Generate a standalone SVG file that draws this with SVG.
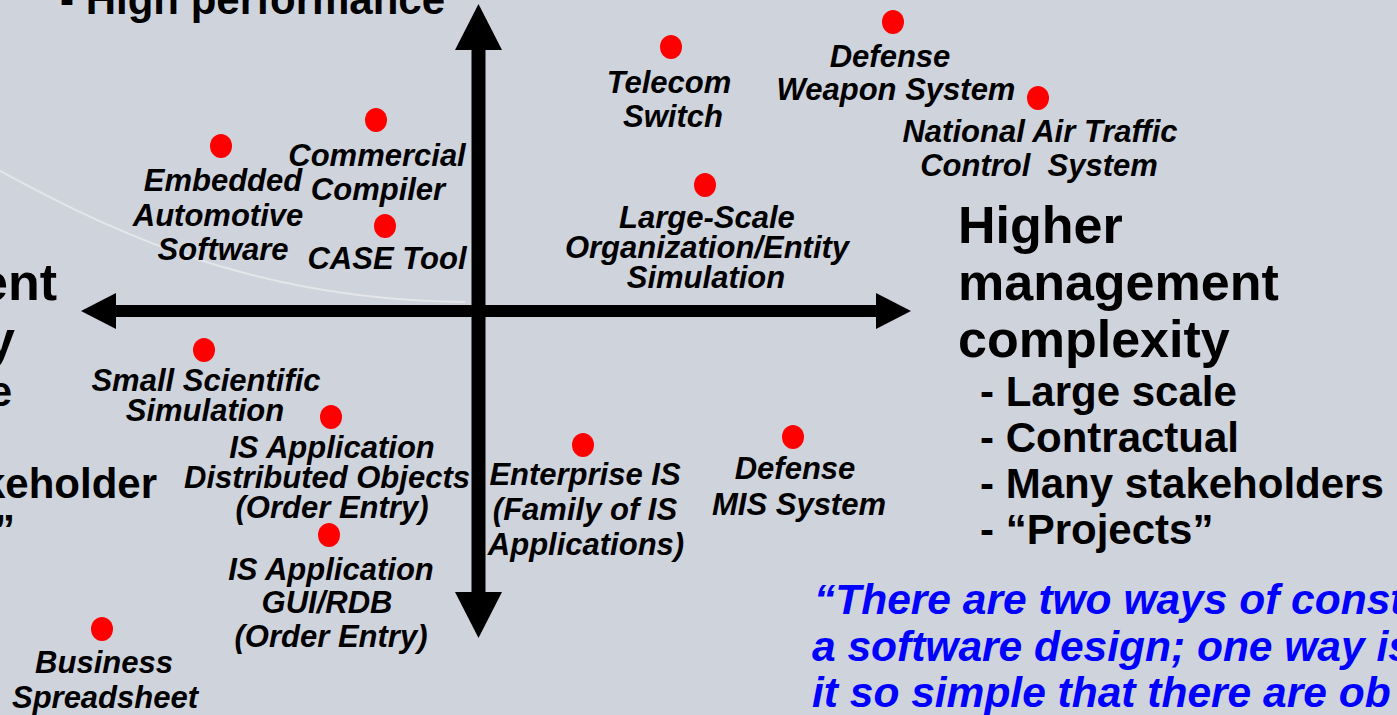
<svg xmlns="http://www.w3.org/2000/svg" width="1397" height="715" viewBox="0 0 1397 715">
<style>
.lbl{font-family:"Liberation Sans",Arial,sans-serif;font-weight:bold;font-style:italic;font-size:31px;fill:#000;text-anchor:middle;white-space:pre}
.dot{fill:#ff0000}
.head{font-family:"Liberation Sans",Arial,sans-serif;font-weight:bold;font-size:52px;fill:#000}
.list{font-family:"Liberation Sans",Arial,sans-serif;font-weight:bold;font-size:42px;fill:#000;white-space:pre}
.quote{font-family:"Liberation Sans",Arial,sans-serif;font-weight:bold;font-style:italic;font-size:42.5px;fill:#0000ff;white-space:pre}
.axis{stroke:#000;fill:none}
</style>
<defs>
<marker id="headV" markerUnits="userSpaceOnUse" markerWidth="47" markerHeight="47" viewBox="0 0 46 47" refX="0" refY="23.5" orient="auto-start-reverse">
<path d="M0,0 L46,23.5 L0,47 z" fill="#000"/>
</marker>
<marker id="headH" markerUnits="userSpaceOnUse" markerWidth="36" markerHeight="36" viewBox="0 0 35 36" refX="0" refY="18" orient="auto-start-reverse">
<path d="M0,0 L35,18 L0,36 z" fill="#000"/>
</marker>
</defs>
<rect x="0" y="0" width="1397" height="715" fill="#cfd3db"/>
<path d="M-20,160 C80,214 230,300 465,302" fill="none" stroke="#e4e6ea" stroke-width="2"/>

<g id="connectors">
<path class="axis" d="M478.5,50 L478.5,592" stroke-width="14" marker-start="url(#headV)" marker-end="url(#headV)"/>
<path class="axis" d="M116,311 L876,311" stroke-width="12" marker-start="url(#headH)" marker-end="url(#headH)"/>
</g>

<g id="embedded-automotive">
<ellipse class="dot" cx="221" cy="146" rx="11" ry="12"/>
<text class="lbl"><tspan x="223" y="191">Embedded</tspan><tspan x="218" y="226">Automotive</tspan><tspan x="223" y="260">Software</tspan></text>
</g>
<g id="commercial-compiler">
<ellipse class="dot" cx="376" cy="120" rx="11" ry="12"/>
<text class="lbl"><tspan x="377" y="166">Commercial</tspan><tspan x="378" y="200">Compiler</tspan></text>
</g>
<g id="case-tool">
<ellipse class="dot" cx="385" cy="226" rx="11" ry="12"/>
<text class="lbl" x="387" y="269">CASE Tool</text>
</g>
<g id="telecom-switch">
<ellipse class="dot" cx="671" cy="47" rx="11" ry="12"/>
<text class="lbl"><tspan x="669" y="93">Telecom</tspan><tspan x="673" y="127">Switch</tspan></text>
</g>
<g id="large-scale-simulation">
<ellipse class="dot" cx="705" cy="185" rx="11" ry="12"/>
<text class="lbl"><tspan x="707" y="228">Large-Scale</tspan><tspan x="707" y="258">Organization/Entity</tspan><tspan x="706" y="288">Simulation</tspan></text>
</g>
<g id="defense-weapon">
<ellipse class="dot" cx="893" cy="22" rx="11" ry="12"/>
<text class="lbl"><tspan x="890" y="67">Defense</tspan><tspan x="896" y="100">Weapon System</tspan></text>
</g>
<g id="national-air-traffic">
<ellipse class="dot" cx="1038" cy="98" rx="11" ry="12"/>
<text class="lbl"><tspan x="1040" y="142">National Air Traffic</tspan><tspan x="1039" y="176">Control  System</tspan></text>
</g>
<g id="small-scientific">
<ellipse class="dot" cx="204" cy="350" rx="11" ry="12"/>
<text class="lbl"><tspan x="206" y="391">Small Scientific</tspan><tspan x="205" y="421">Simulation</tspan></text>
</g>
<g id="is-distributed">
<ellipse class="dot" cx="331" cy="417" rx="11" ry="12"/>
<text class="lbl"><tspan x="332" y="458">IS Application</tspan><tspan x="327" y="488">Distributed Objects</tspan><tspan x="332" y="518">(Order Entry)</tspan></text>
</g>
<g id="is-gui">
<ellipse class="dot" cx="329" cy="535" rx="11" ry="12"/>
<text class="lbl"><tspan x="331" y="580">IS Application</tspan><tspan x="327" y="613">GUI/RDB</tspan><tspan x="331" y="647">(Order Entry)</tspan></text>
</g>
<g id="business-spreadsheet">
<ellipse class="dot" cx="102" cy="629" rx="11" ry="12"/>
<text class="lbl"><tspan x="104" y="673">Business</tspan><tspan x="105" y="708">Spreadsheet</tspan></text>
</g>
<g id="enterprise-is">
<ellipse class="dot" cx="583" cy="445" rx="11" ry="12"/>
<text class="lbl"><tspan x="585" y="485">Enterprise IS</tspan><tspan x="585" y="520">(Family of IS</tspan><tspan x="586" y="555">Applications)</tspan></text>
</g>
<g id="defense-mis">
<ellipse class="dot" cx="793" cy="437" rx="11" ry="12"/>
<text class="lbl"><tspan x="795" y="479">Defense</tspan><tspan x="799" y="515">MIS System</tspan></text>
</g>

<g id="higher-complexity">
<text class="head"><tspan x="958" y="243">Higher</tspan><tspan x="958" y="300">management</tspan><tspan x="958" y="357">complexity</tspan></text>
<text class="list"><tspan x="980" y="406">- Large scale</tspan><tspan x="980" y="452">- Contractual</tspan><tspan x="980" y="498">- Many stakeholders</tspan><tspan x="980" y="544">- “Projects”</tspan></text>
</g>

<g id="lower-complexity">
<text class="head" text-anchor="end" x="57" y="300">ent</text>
<text class="head" text-anchor="end" x="15" y="357">y</text>
<text class="list" text-anchor="end" x="12" y="406">e</text>
<text class="list" text-anchor="end" x="157" y="498">keholder</text>
<text class="list" text-anchor="end" x="15" y="544">”</text>
</g>

<g id="high-performance">
<text class="list" x="60" y="14">- High performance</text>
</g>

<g id="quote">
<text class="quote"><tspan x="814" y="614">“There are two ways of const</tspan><tspan x="812" y="661">a software design; one way is</tspan><tspan x="812" y="707">it so simple that there are ob</tspan></text>
</g>
</svg>
